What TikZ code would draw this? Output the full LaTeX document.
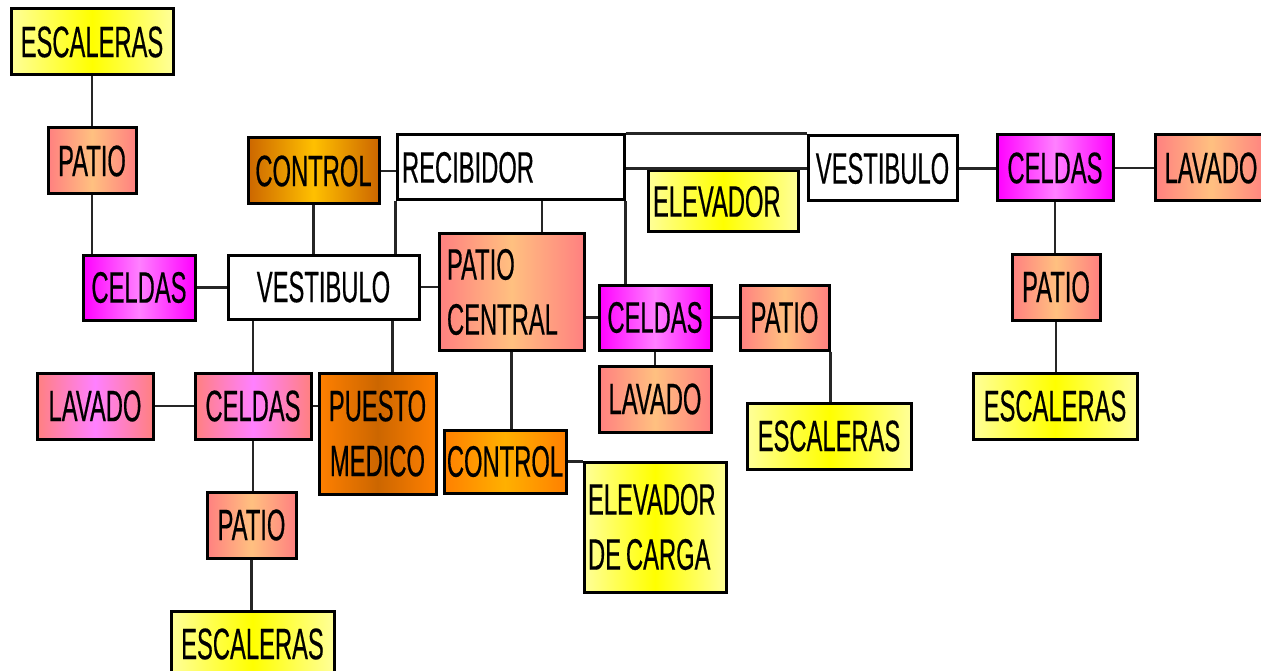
\documentclass[tikz,border=0pt]{standalone}
\usepackage{fontspec}
\setmainfont{Liberation Sans}[FakeStretch=0.54,FakeBold=0.4]
\usetikzlibrary{calc}
\definecolor{ylw}{HTML}{FFFF00}
\definecolor{ylwL}{HTML}{FFFF99}
\definecolor{salmon}{HTML}{FF8080}
\definecolor{peach}{HTML}{FFC080}
\definecolor{mag}{HTML}{FF00FF}
\definecolor{magL}{HTML}{FF80FF}
\definecolor{brn}{HTML}{CC6600}
\definecolor{gold}{HTML}{FFC000}
\definecolor{org}{HTML}{FF8000}
\definecolor{orgL}{HTML}{FFB000}
\tikzset{
  box/.style={draw=black, line width=3pt, inner sep=0pt, text=black,
    font=\fontsize{44}{55}\selectfont, align=center},
  yel/.style={box, left color=ylwL, right color=ylwL, middle color=ylw},
  pat/.style={box, left color=salmon, right color=salmon, middle color=peach},
  cel/.style={box, left color=mag, right color=mag, middle color=magL},
  pnk/.style={box, left color=salmon, right color=salmon, middle color=magL},
  ctrA/.style={box, left color=brn, right color=brn, middle color=gold},
  ctrB/.style={box, left color=org, right color=org, middle color=orgL},
  pst/.style={box, left color=org, right color=org, middle color=brn},
  wht/.style={box, fill=white},
  conn/.style={draw=black!85, line width=2.6pt}
}
\begin{document}
\begin{tikzpicture}[x=1pt,y=-1pt]
\clip (0,0) rectangle (1261,671);
\useasboundingbox (0,0) rectangle (1261,671);
\fill[white] (0,0) rectangle (1261,671);
% nodes
\node[yel, minimum width=162pt, minimum height=66pt] (esc1) at (92,42) {ESCALERAS};
\node[pat, minimum width=88pt, minimum height=66pt] (patio1) at (92,161) {PATIO};
\node[cel, minimum width=112pt, minimum height=65pt] (celdas1) at (139,287.5) {CELDAS};
\node[wht, minimum width=191pt, minimum height=64pt] (vest1) at (323.5,287) {VESTIBULO};
\node[ctrA, minimum width=131pt, minimum height=66pt] (control1) at (313.5,171) {CONTROL};
\node[wht, minimum width=227pt, minimum height=65pt, inner xsep=5pt, text width=217pt, align=left] (recib) at (510.5,167.5) {RECIBIDOR};
\node[pat, minimum width=145pt, minimum height=116pt, inner xsep=8pt, text width=129pt, align=left] (pcentral) at (511.5,292) {PATIO\\CENTRAL};
\node[cel, minimum width=112pt, minimum height=65pt] (celdas2) at (655,317.5) {CELDAS};
\node[pat, minimum width=89pt, minimum height=65pt] (patio2) at (784.5,317.5) {PATIO};
\node[pat, minimum width=112pt, minimum height=66pt] (lavado2) at (655,399) {LAVADO};
\node[yel, minimum width=164pt, minimum height=66pt] (esc2) at (829,436) {ESCALERAS};
\node[ctrB, minimum width=122pt, minimum height=63pt] (control2) at (505,461.5) {CONTROL};
\node[yel, minimum width=142pt, minimum height=130pt, inner xsep=4pt, text width=134pt, align=left] (elevcarga) at (655,527) {ELEVADOR\\DE\hspace{5pt}CARGA};
\node[yel, minimum width=150pt, minimum height=61pt, inner xsep=5pt, text width=140pt, align=left] (elev) at (723,201.5) {ELEVADOR};
\node[wht, minimum width=149pt, minimum height=65pt] (vest2) at (882.5,168.5) {VESTIBULO};
\node[cel, minimum width=116pt, minimum height=66pt] (celdas3) at (1055,168) {CELDAS};
\node[pat, minimum width=112pt, minimum height=66pt] (lavado3) at (1211,168) {LAVADO};
\node[pat, minimum width=88pt, minimum height=66pt] (patio3) at (1056,287) {PATIO};
\node[yel, minimum width=164pt, minimum height=66pt] (esc3) at (1055,406) {ESCALERAS};
\node[pnk, minimum width=116pt, minimum height=66pt] (lavado1) at (95,406) {LAVADO};
\node[pnk, minimum width=116pt, minimum height=66pt] (celdas4) at (253,406) {CELDAS};
\node[pst, minimum width=117pt, minimum height=121pt] (puesto) at (377.5,433.5) {PUESTO\\MEDICO};
\node[pat, minimum width=89pt, minimum height=66pt] (patio4) at (251.5,525) {PATIO};
\node[yel, minimum width=163pt, minimum height=66pt] (esc4) at (252.5,644) {ESCALERAS};
% helper coordinates
\coordinate (vp) at ($(vest1.south east)+(-28,0)$);
\coordinate (rp) at ($(recib.south)+(31.5,0)$);
% connectors
\draw[conn] (esc1.south) -- (patio1.north);
\draw[conn] (patio1.south) -- (patio1.south |- celdas1.north);
\draw[conn] (celdas1.east) -- (celdas1.east -| vest1.west);
\draw[conn] (control1.east) -- (control1.east -| recib.west);
\draw[conn] (control1.south) -- (control1.south |- vest1.north);
\draw[conn] (recib.south west) -- (recib.south west |- vest1.north);
\draw[conn] (rp) -- (rp |- pcentral.north);
\draw[conn] (recib.south east) -- (recib.south east |- celdas2.north);
\draw[conn] (recib.north east) -- (recib.north east -| vest2.west);
\draw[conn] (vest2.west) -- (vest2.west -| recib.east);
\draw[conn] (vest1.east) -- (vest1.east -| pcentral.west);
\draw[conn] (celdas2.west) -- (celdas2.west -| pcentral.east);
\draw[conn] (celdas2.east) -- (patio2.west);
\draw[conn] (celdas2.south) -- (lavado2.north);
\draw[conn] (patio2.south east) -- (patio2.south east |- esc2.north);
\draw[conn] (pcentral.south) -- (pcentral.south |- control2.north);
\draw[conn] (control2.east) -- (control2.east -| elevcarga.west);
\draw[conn] (vest2.east) -- (vest2.east -| celdas3.west);
\draw[conn] (celdas3.east) -- (celdas3.east -| lavado3.west);
\draw[conn] (celdas3.south) -- (celdas3.south |- patio3.north);
\draw[conn] (patio3.south) -- (patio3.south |- esc3.north);
\draw[conn] (celdas4.north) -- (celdas4.north |- vest1.south);
\draw[conn] (vp) -- (vp |- puesto.north);
\draw[conn] (lavado1.east) -- (celdas4.west);
\draw[conn] (celdas4.east) -- (celdas4.east -| puesto.west);
\draw[conn] (celdas4.south) -- (celdas4.south |- patio4.north);
\draw[conn] (patio4.south) -- (patio4.south |- esc4.north);
\end{tikzpicture}
\end{document}
